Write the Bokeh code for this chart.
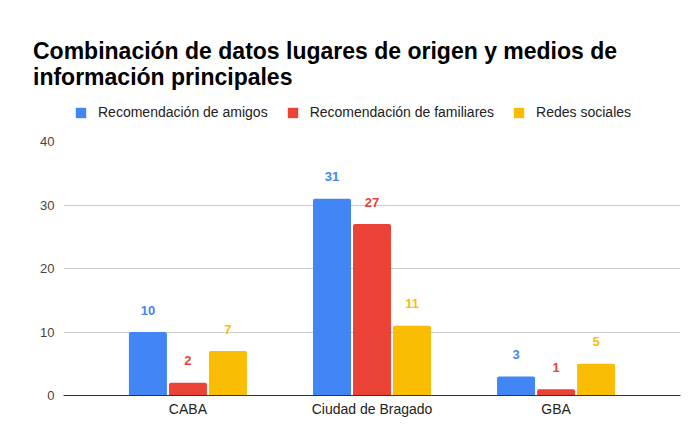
from bokeh.plotting import figure
from bokeh.layouts import column
from bokeh.models import (ColumnDataSource, FactorRange, Range1d, FixedTicker, LabelSet,
                          Legend, LegendItem, Div)
from bokeh.core.properties import value
from bokeh.transform import dodge
from bokeh.embed import file_html
from bokeh.resources import INLINE

categories = ["CABA", "Ciudad de Bragado", "GBA"]
amigos = [10, 31, 3]
familiares = [2, 27, 1]
redes = [7, 11, 5]
series_names = ["Recomendación de amigos", "Recomendación de familiares", "Redes sociales"]
y_ticks = [0, 10, 20, 30, 40]
title_lines = ["Combinación de datos lugares de origen y medios de", "información principales"]

colors = ["#4285F4", "#EA4335", "#FBBC04"]
FONT = "Liberation Sans"
W = 691
TITLE_H = 90
LEG_H = 40

# ---------- title ----------
title = Div(text="<br>".join(title_lines), width=W - 33, height=TITLE_H - 38,
            margin=(38, 0, 0, 33),
            styles={"font-family": FONT, "font-size": "23px", "font-weight": "bold",
                    "line-height": "26px", "color": "#000000", "white-space": "nowrap"})

# ---------- legend strip ----------
head = figure(width=W, height=LEG_H, output_backend="svg", toolbar_location=None,
              x_range=Range1d(0, 1), y_range=Range1d(0, 1),
              x_axis_type=None, y_axis_type=None, title=None,
              min_border=0, min_border_left=63, min_border_right=11,
              min_border_top=0, min_border_bottom=0)
head.outline_line_color = None
head.xgrid.visible = False
head.ygrid.visible = False
head.background_fill_color = "white"
head.border_fill_color = "white"

swatches = [head.vbar(x=[0], top=[0], width=0, fill_color=c, line_color=None,
                      border_radius=2) for c in colors]
legend = Legend(items=[LegendItem(label=n, renderers=[r]) for n, r in zip(series_names, swatches)],
                location=(11, 10), orientation="horizontal", spacing=18, label_standoff=11,
                glyph_width=13, glyph_height=13, label_height=13, padding=0, margin=0,
                border_line_color=None, background_fill_alpha=0,
                label_text_font=FONT, label_text_font_size="14px", label_text_color="#222222")
head.add_layout(legend, "center")

# ---------- chart ----------
src = ColumnDataSource(data=dict(cat=categories, amigos=amigos, familiares=familiares, redes=redes,
                                 amigos_t=[str(v) for v in amigos],
                                 familiares_t=[str(v) for v in familiares],
                                 redes_t=[str(v) for v in redes]))

top_h = TITLE_H + LEG_H
p = figure(width=W, height=432 - top_h, output_backend="svg", toolbar_location=None,
           title=None,
           x_range=FactorRange(*categories, range_padding=0.1173, range_padding_units="percent"),
           y_range=Range1d(0, 40),
           min_border_left=63, min_border_right=11, min_border_top=141 - top_h,
           min_border_bottom=37)
p.outline_line_color = None
p.background_fill_color = "white"
p.border_fill_color = "white"

offsets = [-0.2174, 0.0, 0.2174]
fields = ["amigos", "familiares", "redes"]
for f, off, c in zip(fields, offsets, colors):
    p.vbar(x=dodge("cat", off, range=p.x_range), top=f, width=0.2065, source=src,
           fill_color=c, line_color=None, border_radius=(2, 2, 0, 0))
    p.add_layout(LabelSet(x=dodge("cat", off, range=p.x_range), y=f, text=f + "_t", source=src,
                          text_align="center", text_baseline="alphabetic", y_offset=17.5,
                          text_font=value(FONT), text_font_size="13px", text_font_style="bold",
                          text_color=c))

p.yaxis.ticker = FixedTicker(ticks=y_ticks)
p.yaxis.axis_line_color = None
p.yaxis.major_tick_line_color = None
p.yaxis.minor_tick_line_color = None
p.yaxis.major_tick_out = 0
p.yaxis.major_tick_in = 0
p.yaxis.major_label_text_font = FONT
p.yaxis.major_label_text_font_size = "13px"
p.yaxis.major_label_text_color = "#444444"
p.yaxis.major_label_standoff = 9

p.xaxis.axis_line_color = "#333333"
p.xaxis.axis_line_width = 1
p.xaxis.major_tick_line_color = None
p.xaxis.minor_tick_line_color = None
p.xaxis.major_tick_out = 0
p.xaxis.major_tick_in = 0
p.xaxis.major_label_text_font = FONT
p.xaxis.major_label_text_font_size = "14px"
p.xaxis.major_label_text_color = "#222222"
p.xaxis.major_label_standoff = 5

p.xgrid.grid_line_color = None
p.ygrid.grid_line_color = "#cccccc"
p.ygrid.ticker = FixedTicker(ticks=y_ticks)

layout = column(title, head, p, spacing=0)
open("out.html", "w").write(file_html(layout, INLINE))
